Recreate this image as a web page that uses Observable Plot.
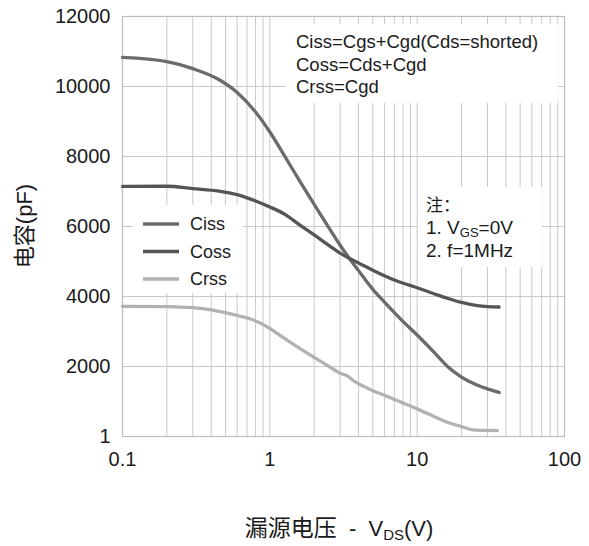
<!DOCTYPE html>
<html><head><meta charset="utf-8">
<script src="https://cdn.jsdelivr.net/npm/d3@7"></script>
<script src="https://cdn.jsdelivr.net/npm/@observablehq/plot@0.6"></script>
<style>body{margin:0;background:#fff}</style>
</head><body><div id="chart"></div>
<script>
const seriesNames = ["Ciss", "Coss", "Crss"];
const seriesColors = ["#6b6b6b", "#555555", "#b2b2b2"];

const cissV = [0.1,0.2,0.3,0.45,0.6,0.8,1,1.25,1.6,2,2.5,3,3.5,4,5,6,8,10,13,16,20,25,30,36];
const cissC = [10830,10710,10510,10200,9830,9270,8700,8040,7290,6630,5980,5465,5065,4740,4205,3840,3290,2900,2410,2010,1700,1487,1360,1260];

const cossV = [0.1,0.2,0.3,0.45,0.6,0.8,1,1.25,1.6,2,2.5,3,3.5,4,5,7,10,13,16,20,25,30,36];
const cossC = [7145,7150,7080,7010,6910,6730,6560,6360,6040,5760,5470,5240,5080,4960,4750,4470,4250,4080,3950,3830,3745,3710,3700];

const crssV = [0.1,0.2,0.3,0.4,0.5,0.6,0.75,1,1.2,1.5,2,2.5,3,3.4,3.6,4,5,6,8,10,13,16,20,24,30,35];
const crssC = [3720,3710,3680,3620,3540,3460,3350,3090,2860,2590,2260,2010,1810,1720,1630,1510,1310,1180,960,790,575,410,285,190,175,171];

const xGrid = [0.1,0.2,0.3,0.4,0.5,0.6,0.7,0.8,0.9,1,2,3,4,5,6,7,8,9,10,20,30,40,50,60,70,80,90,100];
const xTicks = [0.1, 1, 10, 100];
const xTickLabels = ["0.1", "1", "10", "100"];
const yTicks = [1, 2000, 4000, 6000, 8000, 10000, 12000];
const yTickLabels = ["1", "2000", "4000", "6000", "8000", "10000", "12000"];
const yGrid = [2000, 4000, 6000, 8000, 10000];

const formulaLines = ["Ciss=Cgs+Cgd(Cds=shorted)", "Coss=Cds+Cgd", "Crss=Cgd"];
const yTitle = "电容(pF)";

const rows = [];
[[cissV, cissC], [cossV, cossC], [crssV, crssC]].forEach(([vs, cs], i) => {
  vs.forEach((v, j) => rows.push({series: seriesNames[i], v, c: cs[j]}));
});

const chart = Plot.plot({
  width: 589, height: 546,
  marginLeft: 122, marginRight: 25, marginTop: 16, marginBottom: 110,
  style: {fontFamily: "'Liberation Sans', Arial, sans-serif", fontSize: "20px", background: "#fff", color: "#1a1a1a"},
  x: {type: "log", domain: [0.1, 100], ticks: xTicks, tickSize: 0, tickPadding: 15,
      tickFormat: d => xTickLabels[xTicks.indexOf(d)], label: null},
  y: {domain: [1, 12000], ticks: yTicks, tickSize: 0, tickPadding: 12,
      tickFormat: d => yTickLabels[yTicks.indexOf(d)], label: null},
  color: {domain: seriesNames, range: seriesColors},
  marks: [
    Plot.ruleX(xGrid, {stroke: "#c9c9c9", strokeWidth: 1}),
    Plot.ruleY(yGrid, {stroke: "#c9c9c9", strokeWidth: 1}),
    Plot.frame({stroke: "#bdbdbd", strokeWidth: 1.2}),
    Plot.line(rows, {x: "v", y: "c", z: "series", stroke: "series", strokeWidth: 3.3, curve: "monotone-x"})
  ]
});
document.getElementById("chart").appendChild(chart);

const svg = d3.select(chart);
// white annotation boxes beneath the curves, above the grid
const boxes = svg.insert("g", 'g[aria-label="line"]');
boxes.append("rect").attr("x", 286).attr("y", 24).attr("width", 272).attr("height", 79).attr("fill", "#fff");
boxes.append("rect").attr("x", 418).attr("y", 187).attr("width", 124).attr("height", 80).attr("fill", "#fff");
boxes.append("rect").attr("x", 133).attr("y", 205).attr("width", 110).attr("height", 88).attr("fill", "#fff");

const ff = "'Liberation Sans', Arial, 'Noto Sans CJK SC', sans-serif";
const txt = svg.append("g").attr("font-family", ff).attr("fill", "#1a1a1a").attr("text-anchor", "start");

// formula box
formulaLines.forEach((s, i) => {
  txt.append("text").attr("x", 296).attr("y", 48 + i * 22.5).attr("font-size", 18.5).text(s);
});

// note box
txt.append("text").attr("x", 426).attr("y", 211).attr("font-size", 17)
  .attr("font-family", "'Noto Sans CJK SC', sans-serif").text("注：");
const n1 = txt.append("text").attr("x", 426).attr("y", 234).attr("font-size", 19);
n1.append("tspan").text("1. V");
n1.append("tspan").attr("font-size", 13).attr("dy", 3).text("GS");
n1.append("tspan").attr("dy", -3).text("=0V");
txt.append("text").attr("x", 426).attr("y", 257).attr("font-size", 19).text("2. f=1MHz");

// legend
seriesNames.forEach((name, i) => {
  const y = 224 + i * 27.5;
  svg.append("line").attr("x1", 143).attr("x2", 179).attr("y1", y).attr("y2", y)
    .attr("stroke", seriesColors[i]).attr("stroke-width", 3.3);
  txt.append("text").attr("x", 190).attr("y", y).attr("dy", "0.36em").attr("font-size", 18).text(name);
});

// axis titles
txt.append("text").attr("transform", "translate(32,226) rotate(-90)")
  .attr("text-anchor", "middle").attr("font-size", 22).text(yTitle);
const xt = txt.append("text").attr("x", 339).attr("y", 536).attr("text-anchor", "middle").attr("font-size", 22);
xt.append("tspan").attr("font-family", "'Noto Sans CJK SC', sans-serif").attr("font-size", 23).text("漏源电压");
xt.append("tspan").text("  -  V");
xt.append("tspan").attr("font-size", 15).attr("dy", 4).text("DS");
xt.append("tspan").attr("dy", -4).text("(V)");
</script>
</body></html>
